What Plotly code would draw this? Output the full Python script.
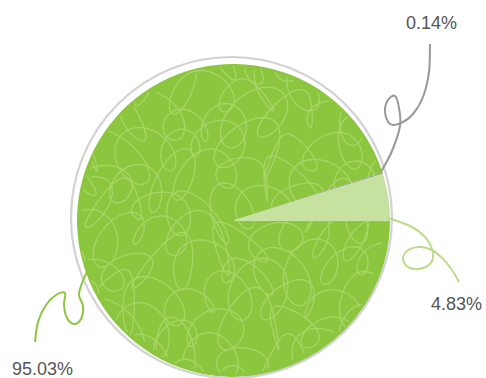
import math
import plotly.graph_objects as go

# ---- data -------------------------------------------------------------
slice_names = ["Segment A", "Segment C", "Segment B"]
slice_shares = [95.03, 0.14, 4.83]
slice_labels = ["95.03%", "0.14%", "4.83%"]
slice_colors = ["#8cc63f", "#96969b", "#c6e1a0"]

# ---- canvas geometry (pixels) ----------------------------------------
W, H = 486, 378
CX, CY, R = 233.5, 220.5, 156.5


def px(x):
    return x / W


def py(y):
    return 1 - y / H


def spline_path(pts):
    """Catmull-Rom curve through pixel points, as an SVG path in paper units."""
    p = [pts[0]] + list(pts) + [pts[-1]]
    d = "M {:.5f},{:.5f}".format(px(p[1][0]), py(p[1][1]))
    for i in range(1, len(p) - 2):
        p0, p1, p2, p3 = p[i - 1], p[i], p[i + 1], p[i + 2]
        c1 = (p1[0] + (p2[0] - p0[0]) / 6, p1[1] + (p2[1] - p0[1]) / 6)
        c2 = (p2[0] - (p3[0] - p1[0]) / 6, p2[1] - (p3[1] - p1[1]) / 6)
        d += " C {:.5f},{:.5f} {:.5f},{:.5f} {:.5f},{:.5f}".format(
            px(c1[0]), py(c1[1]), px(c2[0]), py(c2[1]), px(p2[0]), py(p2[1]))
    return d


# slices run clockwise from 3 o'clock, so the last one closes back on the horizontal
fig = go.Figure(go.Pie(
    labels=slice_names,
    values=slice_shares,
    sort=False,
    direction="clockwise",
    rotation=90,
    marker=dict(colors=slice_colors, line=dict(width=0)),
    textinfo="none",
    hoverinfo="label+percent",
    showlegend=False,
    domain=dict(x=[px(CX - R), px(CX + R)], y=[py(CY + R), py(CY - R)]),
))

shapes = []

# thin grey ring around the pie
shapes.append(dict(type="circle", xref="paper", yref="paper",
                   x0=px(71), x1=px(392), y0=py(378), y1=py(57),
                   line=dict(color="#d2d2d2", width=2.2), layer="above"))

# loopy hand-drawn hatch over the pie: tilted, uneven loops swept row by row
hatch = []
for i, y0 in enumerate(range(58, 392, 30)):
    sign = 1 if i % 2 == 0 else -1
    seg = []
    t = 0.0
    while t < 62:
        bx = 60 + 5.8 * t if sign > 0 else 410 - 5.8 * t
        by = y0 + 8 * math.sin(0.21 * t + 1.3 * i)
        a = 15 + 6 * math.sin(0.37 * t + i)
        b = 24 + 9 * math.sin(0.29 * t + 2.1 * i)
        th = 0.7 * math.sin(0.17 * t + 0.9 * i)
        u = a * math.cos(t + i) * sign
        v = b * math.sin(t + i)
        x = bx + u * math.cos(th) - v * math.sin(th)
        y = by + u * math.sin(th) + v * math.cos(th)
        if (x - CX) ** 2 + (y - CY) ** 2 < (R - 2) ** 2:
            seg.append((x, y))
        elif seg:
            hatch.append(seg)
            seg = []
        t += 0.2
    if seg:
        hatch.append(seg)
hatch_d = ""
for seg in hatch:
    if len(seg) < 2:
        continue
    hatch_d += "M " + " L ".join("{:.5f},{:.5f}".format(px(a), py(b)) for a, b in seg) + " "
shapes.append(dict(type="path", xref="paper", yref="paper", path=hatch_d.strip(),
                   line=dict(color="rgba(200,232,150,0.45)", width=1.3), layer="above"))

# curly leader lines from each slice to its label
leaders = [
    ("#8cc63f", [(35, 342), (38, 322), (46, 305), (56, 295), (65, 293), (64, 305),
                 (67, 318), (74, 324), (81, 319), (83, 306), (79, 295), (82, 283),
                 (87, 272), (93, 262)]),
    ("#999999", [(381, 172), (392, 151), (400, 126), (399, 108), (395, 96), (388, 100),
                 (385, 112), (390, 124), (401, 123), (413, 114), (423, 97), (429, 72),
                 (430, 44)]),
    ("#bcdc8c", [(388, 218), (410, 226), (424, 236), (432, 249), (432, 261), (423, 268),
                 (410, 268), (403, 260), (407, 251), (419, 247), (432, 250), (443, 259),
                 (452, 270), (459, 282)]),
]
for color, pts in leaders:
    shapes.append(dict(type="path", xref="paper", yref="paper", path=spline_path(pts),
                       line=dict(color=color, width=2), layer="above"))

label_pos = [(42, 369), (431, 23), (456, 304)]
annotations = [
    dict(x=px(x), y=py(y), xref="paper", yref="paper", text=t, showarrow=False,
         xanchor="center", yanchor="middle",
         font=dict(family="Liberation Sans, Arial, sans-serif", size=18, color="#555555"))
    for (x, y), t in zip(label_pos, slice_labels)
]

fig.update_layout(
    width=W, height=H,
    margin=dict(l=0, r=0, t=0, b=0),
    paper_bgcolor="white",
    plot_bgcolor="white",
    shapes=shapes,
    annotations=annotations,
)

fig.write_html("out.html")
